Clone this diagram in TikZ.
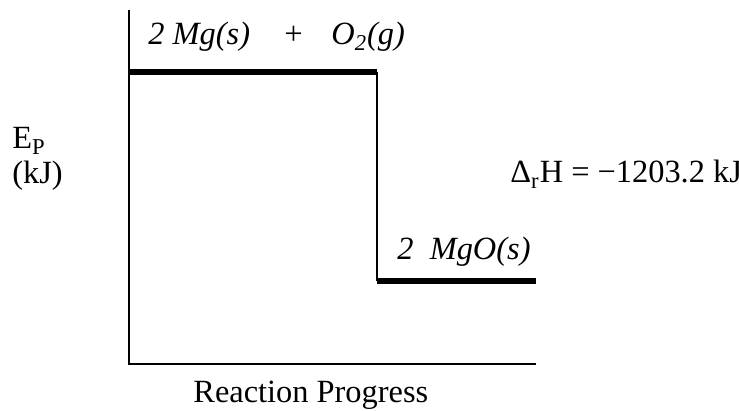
\documentclass[tikz,border=0pt]{standalone}
\usepackage{fontspec}
\setmainfont{Liberation Serif}
\usepackage{tikz}
\usetikzlibrary{positioning, calc}

\begin{document}
\begin{tikzpicture}[
    x=0.5pt, y=0.5pt,
    axis/.style={line width=1pt},
    level/.style={line width=2.6pt},
    label/.style={anchor=base west, inner sep=0pt, font=\fontsize{16.2}{19.4}\selectfont},
    species/.style={label, font=\fontsize{16.2}{19.4}\selectfont\itshape},
    ]
\useasboundingbox (0,0) rectangle (739,411);

% axes
\coordinate (top) at (129,401);
\coordinate (origin) at (129,47);
\coordinate (xend) at (536,47);
\draw[axis] (top) -- (origin) -- (xend);

% energy levels
\coordinate (react) at (129,339);
\coordinate (drop) at (377,339);
\coordinate (prod) at (377,130);
\coordinate (prodend) at (536,130);
\draw[level] (react) -- (drop);
\draw[axis] (drop) -- (prod);
\draw[level] (prod) -- (prodend);

% reactants and products
\node[species] (mg) at (148,366) {2 Mg(s)};
\node[species] (plus) at (282,366) {+};
\node[species] (oxy) at (331,366) {O\textsubscript{2}(g)};
\node[species] (mgo) at (397,151) {2\ \ MgO(s)};

% enthalpy change
\node[label] (dh) at (510,228) {Δ\textsubscript{r}H = −1203.2 kJ};

% Add axes labels
\node[label] (ep) at (12,262) {E\textsubscript{P}};
\node[label] (kj) at (12,227) {(kJ)};
\node[label] (xlab) at (193,8) {Reaction Progress};

\end{tikzpicture}
\end{document}
